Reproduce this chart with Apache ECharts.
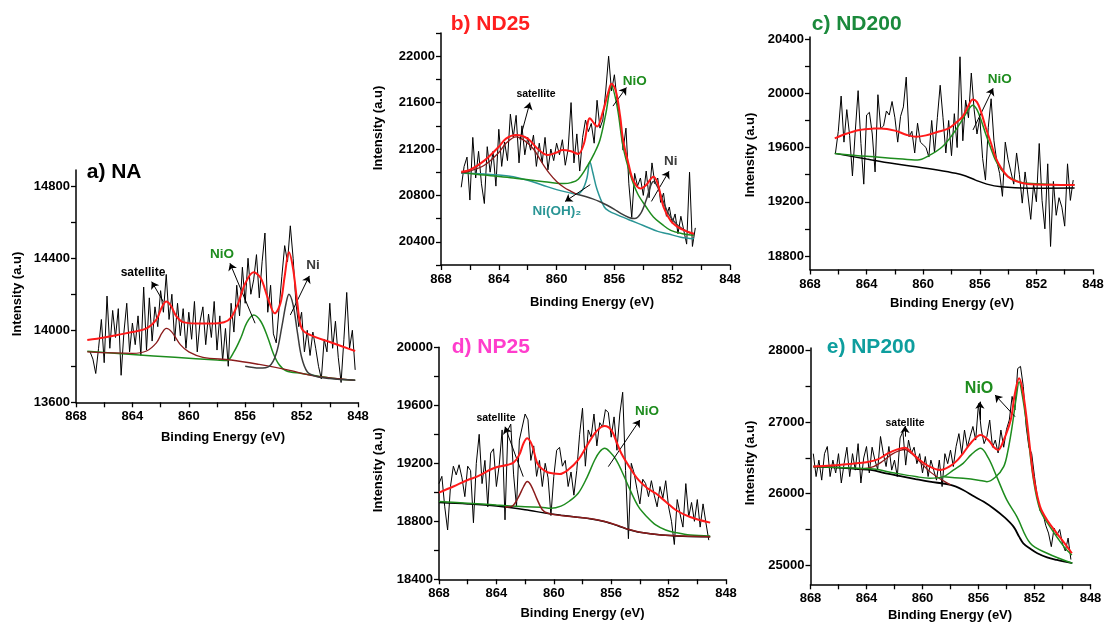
<!DOCTYPE html>
<html>
<head>
<meta charset="utf-8">
<script src="https://cdn.jsdelivr.net/npm/echarts@6/dist/echarts.min.js"></script>
<style>
  html, body { margin: 0; padding: 0; background: #ffffff; }
  #chart { width: 1106px; height: 626px; }
</style>
</head>
<body>
<div id="chart"></div>
<script>
// ---------- shared energy axis (eV) ----------
const energyStep = 0.2;
const energyTicks = [868, 866, 864, 862, 860, 858, 856, 854, 852, 850, 848];
const energyLabels = [868, 864, 860, 856, 852, 848];

// ---------- a) NA ----------
const naIntensityTicks = [13600, 13800, 14000, 14200, 14400, 14600, 14800];
const naIntensityLabels = [13600, 14000, 14400, 14800];
const naRawStart = 867.0;
const naRaw = [
  13880, 13840, 13760, 13900, 14060, 13820, 14190, 13900, 14110, 13960,
  14120, 13750, 13990, 14150, 13880, 14040, 13920, 14080, 13860, 14240,
  13890, 14180, 13940, 14130, 14020, 14220, 14100, 14310, 14060, 14200,
  13940, 14150, 13970, 14120, 13900, 14100, 13950, 14160, 13880, 14050,
  14130, 13920, 14090, 13960, 14160, 13890, 14080, 13830, 14010, 13800,
  14150, 13990, 14250, 14080, 14350, 14150, 14400, 14200, 14280, 14420,
  14180, 14380, 14540, 14100, 14250, 13980, 13930, 14120, 14300, 14470,
  14380, 14580, 14400, 14150, 14020, 14100, 13880, 14000, 13860, 13990,
  13900, 13800, 13730, 13950, 13880, 14150, 13900, 14050, 13850, 13710,
  13950, 14210, 13900, 14000, 13780
];
const naEnvelope = [
  [867.2, 13946], [866, 13960], [865, 13975], [864, 13990], [863, 14010], [862.3, 14060],
  [861.9, 14130], [861.6, 14160], [861.3, 14140], [860.9, 14080], [860.4, 14045], [859.5, 14038],
  [858.5, 14038], [857.5, 14045], [857.0, 14070], [856.5, 14150], [856.0, 14260], [855.4, 14322],
  [854.9, 14290], [854.4, 14180], [853.9, 14094], [853.5, 14150], [853.2, 14300], [852.9, 14433],
  [852.6, 14340], [852.3, 14150], [852.0, 14011], [851.4, 13974], [850.0, 13935], [849.0, 13907],
  [848.2, 13885]
];
const naSatellite = [
  [867.2, 13880], [864, 13872], [863, 13885], [862.3, 13930], [861.9, 13985], [861.6, 14010],
  [861.2, 13990], [860.6, 13920], [860, 13880], [859, 13850], [857, 13835], [855, 13810],
  [853, 13780], [851, 13745], [848.2, 13722]
];
const naNiO = [
  [867.2, 13883], [864, 13865], [861, 13850], [858, 13835], [857.3, 13832], [856.8, 13880],
  [856.3, 13960], [855.9, 14040], [855.4, 14085], [854.9, 14050], [854.4, 13960], [854, 13870],
  [853.6, 13810], [853.1, 13775], [852, 13760], [850, 13735], [848.2, 13722]
];
const naNi = [
  [856, 13800], [855, 13790], [854.3, 13800], [853.8, 13870], [853.4, 14020], [853.1, 14150],
  [852.9, 14200], [852.6, 14140], [852.3, 13990], [852, 13850], [851.6, 13770], [851, 13745],
  [850, 13732], [848.2, 13722]
];

// ---------- b) ND25 ----------
const nd25IntensityTicks = [20200, 20400, 20600, 20800, 21000, 21200, 21400, 21600, 21800, 22000, 22200];
const nd25IntensityLabels = [20400, 20800, 21200, 21600, 22000];
const nd25RawStart = 866.6;
const nd25Raw = [
  20870, 21050, 21130, 20760, 21300, 20950, 21180, 20900, 20730, 21220,
  21000, 21180, 20880, 21370, 21050, 21260, 21100, 21500, 21300, 21490,
  21080, 21400, 21150, 21300, 21190, 21320, 21050, 21250, 21080, 21300,
  21020, 21200, 21100, 21250, 21150, 21280, 21060, 21200, 21600, 21080,
  21330, 21010, 21300, 21450, 21350, 21420, 21250, 21620, 21380, 21450,
  21700, 22000, 21700, 21840, 21600, 21460, 21190, 21380, 20900, 20610,
  20990, 20880, 20950, 20800, 21010, 20780, 21080, 20900, 20950, 20740,
  20820, 20620, 20700, 20560, 20640, 20470, 20620, 20500, 20380, 21000,
  20360, 20520
];
const nd25Envelope = [
  [866.6, 21004], [866, 21020], [865, 21100], [864, 21220], [863.5, 21290], [862.8, 21321],
  [862, 21290], [861.3, 21200], [860.6, 21148], [860, 21170], [859.6, 21191], [859, 21180],
  [858.5, 21157], [858.1, 21250], [857.7, 21466], [857.4, 21420], [857.2, 21393], [856.8, 21520],
  [856.4, 21700], [856.2, 21763], [855.9, 21700], [855.6, 21480], [855.4, 21278], [855, 21060],
  [854.7, 20931], [854.2, 20859], [853.8, 20890], [853.3, 20960], [853, 20900], [852.6, 20700],
  [852.1, 20580], [851.6, 20527], [851, 20490], [850.5, 20469]
];
const nd25Satellite = [
  [866.6, 20995], [866, 21010], [865, 21060], [864, 21170], [863.5, 21250], [862.8, 21305],
  [862.2, 21270], [861.6, 21200], [861, 21080], [860.5, 20990], [860, 20920], [859.5, 20870],
  [859, 20835], [858.6, 20810]
];
const nd25NiO = [
  [866.6, 21000], [865, 20975], [863, 20950], [861, 20920], [860, 20905], [859.5, 20902],
  [859, 20910], [858.5, 20940], [857.9, 21047], [857.4, 21160], [857, 21278], [856.6, 21500],
  [856.2, 21740], [855.8, 21560], [855.4, 21220], [854.9, 20980], [854.4, 20816], [853.8, 20700],
  [853.3, 20614], [852.7, 20550], [852.1, 20498], [851.3, 20470], [850.5, 20455]
];
const nd25NiOH2 = [
  [866.6, 20990], [865, 20985], [864, 20975], [863, 20960], [862, 20930], [861, 20890],
  [860, 20850], [859, 20820], [858.6, 20810], [858.2, 20850], [857.9, 20950], [857.7, 21090],
  [857.5, 21000], [857.2, 20850], [856.7, 20700], [856.3, 20660], [856, 20643], [855, 20590],
  [854, 20541], [853, 20490], [852.3, 20469], [851.4, 20440], [850.5, 20426]
];
const nd25Ni = [
  [858.6, 20810], [858, 20790], [857.5, 20770], [857, 20745], [856.5, 20715], [856, 20680],
  [855.5, 20640], [855, 20610], [854.6, 20600], [854.2, 20640], [853.8, 20760], [853.5, 20880],
  [853.3, 20920], [853.0, 20870], [852.6, 20740], [852.2, 20630], [851.6, 20540], [851, 20490],
  [850.5, 20465]
];

// ---------- c) ND200 ----------
const nd200IntensityTicks = [18800, 19000, 19200, 19400, 19600, 19800, 20000, 20200, 20400];
const nd200IntensityLabels = [18800, 19200, 19600, 20000, 20400];
const nd200RawStart = 866.2;
const nd200Raw = [
  19560, 19720, 19980, 19640, 19880, 19690, 19390, 19720, 20020, 19630,
  19330, 19840, 19860, 19700, 19420, 19990, 19740, 19760, 19870, 19840,
  19940, 19820, 19640, 19830, 19900, 20120, 19680, 19720, 19560, 19780,
  19640, 19620, 19600, 19530, 19800, 19560, 19820, 20060, 19820, 19560,
  19800, 19540, 19850, 19600, 20270, 19650, 19950, 19820, 20150, 19880,
  19700, 19820, 19520, 19360, 19750, 19960, 19650, 19500, 19410, 19240,
  19640, 19510, 19420, 19330, 19560, 19400, 19190, 19420, 19250, 19070,
  19330, 19200, 19630, 19210, 19000, 19480, 18870, 19350, 19100, 19230,
  19160, 19020, 19480, 19210, 19360
];
const nd200Envelope = [
  [866.25, 19668], [865.5, 19700], [864.5, 19730], [863.5, 19740], [863, 19741], [862, 19725],
  [861.2, 19695], [860.5, 19680], [859.8, 19690], [859, 19715], [858.2, 19741], [857.6, 19790],
  [857.2, 19830], [856.8, 19910], [856.5, 19955], [856.2, 19935], [855.9, 19860], [855.6, 19754],
  [855.2, 19630], [854.9, 19532], [854.5, 19450], [854, 19385], [853.4, 19350], [852.6, 19331],
  [851, 19325], [849.3, 19323]
];
const nd200NiO = [
  [866.25, 19557], [864, 19535], [862, 19520], [860.4, 19508], [859.6, 19540], [858.65, 19606],
  [857.9, 19700], [857.25, 19803], [856.8, 19880], [856.5, 19913], [856.2, 19880], [855.9, 19800],
  [855.6, 19705], [855.2, 19590], [854.9, 19508], [854.5, 19440], [854, 19385], [853.3, 19350],
  [852.6, 19336], [851, 19328], [849.3, 19325]
];
const nd200Background = [
  [866.25, 19557], [864, 19515], [862, 19480], [860.5, 19459], [859, 19435], [857.7, 19410],
  [857, 19390], [856.3, 19360], [855.5, 19330], [854.5, 19310], [852.6, 19299], [849.3, 19302]
];

// ---------- d) NP25 ----------
const np25IntensityTicks = [18400, 18600, 18800, 19000, 19200, 19400, 19600, 19800, 20000];
const np25IntensityLabels = [18400, 18800, 19200, 19600, 20000];
const np25RawStart = 868.0;
const np25Raw = [
  19060, 19110, 18900, 18740, 19040, 19180, 19120, 19190, 19100, 18970,
  19180, 19150, 18790, 19200, 19400, 19060, 19220, 18900, 19270, 19300,
  19040, 19190, 19430, 18810, 19430, 19470, 19120, 18900, 19360, 19450,
  19540, 19500, 19220, 19320, 19110, 19220, 19040, 19200, 19100, 18840,
  19110, 19290, 19310, 19180, 19220, 19040, 19140, 18980, 19150, 19400,
  19580, 19180, 19430, 19380, 19540, 19320, 19480, 19450, 19570, 19550,
  19380, 19520, 19290, 19540, 19690, 19150, 18680, 19200, 19130, 19020,
  18920, 19090, 19060, 18970, 19080, 18980, 18900, 19040, 18960, 19080,
  18900, 18800, 18640, 18950, 18850, 18760, 19060, 18830, 18930, 18800,
  18950, 18760, 18920, 18790, 18670
];
const np25Envelope = [
  [868, 18998], [867, 19040], [866, 19085], [865.35, 19108], [864.2, 19166], [863.2, 19190],
  [862.8, 19205], [862.4, 19260], [862.1, 19340], [861.85, 19372], [861.5, 19320], [861.15, 19200],
  [860.8, 19160], [860.4, 19136], [859.6, 19126], [859, 19155], [858.3, 19223], [857.7, 19320],
  [857.15, 19407], [856.7, 19450], [856.45, 19458], [856, 19430], [855.6, 19340], [855.3, 19269],
  [854.7, 19170], [854.1, 19085], [853.5, 19030], [852.9, 18993], [852.2, 18935], [851.5, 18878],
  [850.5, 18830], [849.1, 18791]
];
const np25Satellite = [
  [863.4, 18898], [862.9, 18905], [862.5, 18960], [862.1, 19040], [861.85, 19074], [861.6, 19050],
  [861.2, 18960], [860.8, 18880], [860.4, 18855], [859.5, 18840], [858.5, 18830], [857.5, 18820],
  [856.5, 18800], [855.5, 18770], [854.8, 18745], [854, 18725], [852.5, 18706], [851, 18698],
  [849.1, 18694]
];
const np25NiO = [
  [868, 18936], [866, 18925], [864, 18912], [862, 18900], [860.9, 18897], [860.2, 18890],
  [859.5, 18905], [858.9, 18940], [858.3, 18993], [857.7, 19100], [857.15, 19223], [856.8, 19280],
  [856.45, 19303], [856.1, 19280], [855.7, 19230], [855.3, 19154], [854.7, 19020], [854.1, 18901],
  [853.5, 18830], [852.9, 18775], [852.2, 18740], [851.5, 18722], [850.5, 18705], [849.1, 18699]
];
const np25Background = [
  [868, 18930], [866, 18920], [864, 18905], [862, 18880], [860.5, 18855], [859.5, 18842],
  [858.5, 18830], [857.5, 18818], [856.5, 18798], [855.5, 18768], [854.8, 18744], [854, 18724],
  [852.5, 18705], [851, 18697], [849.1, 18693]
];

// ---------- e) NP200 ----------
const np200IntensityTicks = [25000, 25500, 26000, 26500, 27000, 27500, 28000];
const np200IntensityLabels = [25000, 26000, 27000, 28000];
const np200RawStart = 867.8;
const np200Raw = [
  26560, 26240, 26470, 26190, 26560, 26660, 26240, 26470, 26290, 26560,
  26150, 26420, 26650, 26240, 26560, 26330, 26700, 26150, 26500, 26660,
  26290, 26650, 26470, 26340, 26800, 26560, 26380, 26660, 26330, 26470,
  26240, 26780, 26870, 26400, 26750, 26560, 26650, 26420, 26560, 26290,
  26520, 26240, 26470, 26330, 26190, 26470, 26100, 26560, 26420, 26610,
  26380, 26660, 26840, 26560, 26890, 26650, 26800, 26940, 26750, 27260,
  26890, 26700, 26800, 27030, 26650, 26750, 26570, 26890, 26650, 26900,
  27030, 27360, 27170, 27750, 27780, 27500, 26950, 26650, 26560, 26240,
  25960, 25760, 25730, 25560, 25450, 25260, 25520, 25420, 25500, 25300,
  25200, 25380, 25080
];
const np200Envelope = [
  [867.8, 26379], [866.5, 26395], [865, 26420], [864, 26440], [863.2, 26480], [862.5, 26560],
  [861.8, 26620], [861.25, 26644], [860.7, 26560], [860.2, 26472], [859.5, 26380], [858.75, 26332],
  [858, 26390], [857.5, 26470], [857.1, 26565], [856.5, 26720], [855.85, 26821], [855.3, 26750],
  [854.9, 26650], [854.6, 26612], [854.2, 26750], [853.7, 27031], [853.4, 27400], [853.1, 27613],
  [852.85, 27450], [852.55, 27031], [852.3, 26600], [852.07, 26239], [851.6, 25820], [851.1, 25633],
  [850.4, 25447], [849.9, 25320], [849.33, 25168]
];
const np200Satellite = [
  [864.5, 26345], [863.5, 26380], [862.8, 26460], [862.2, 26550], [861.6, 26605], [861.25, 26618],
  [860.8, 26565], [860.2, 26450], [859.6, 26330], [859, 26240], [858.5, 26180], [858, 26123]
];
const np200NiOSat = [
  [867.8, 26379], [865, 26360], [863.5, 26345], [862, 26290], [860.5, 26240], [859.5, 26216],
  [858.5, 26239], [857.8, 26330], [857.1, 26425], [856.5, 26550], [855.85, 26635], [855.3, 26500],
  [854.7, 26239], [853.98, 25913], [853.26, 25680], [852.3, 25307], [851.1, 25168], [849.3, 25028]
];
const np200NiOMain = [
  [858.5, 26239], [857.1, 26216], [856, 26190], [855.4, 26169], [854.8, 26230], [854.2, 26379],
  [853.9, 26600], [853.6, 26938], [853.3, 27350], [853.1, 27566], [852.85, 27350], [852.55, 26950],
  [852.07, 26192], [851.6, 25773], [850.9, 25540], [849.9, 25261], [849.33, 25144]
];
const np200Background = [
  [867.8, 26379], [866, 26365], [864.5, 26345], [863.7, 26332], [862.5, 26280], [861.4, 26239],
  [860.5, 26205], [859.5, 26169], [858, 26123], [857.1, 26053], [856.3, 25960], [855.65, 25890],
  [854.9, 25790], [854.2, 25680], [853.5, 25540], [853.1, 25400], [852.8, 25307], [852.3, 25230],
  [851.8, 25168], [851.1, 25110], [850.4, 25075], [849.3, 25030]
];

// ---------- styling ----------
const FONT = '"Liberation Sans", Arial, sans-serif';
const RED = '#ff1a1a', GREEN = '#1e8c1e', BROWN = '#8b1c1c', GREY = '#3c3c3c',
      TEAL = '#2a9595', BLACK = '#000000';

function rawPoints(start, values) {
  return values.map((v, i) => [Number((start - i * energyStep).toFixed(2)), v]);
}

const layouts = [
  { grid: { left: 76, top: 170, width: 282, height: 232.3 }, min: 13600, max: 14890,
    ticks: naIntensityTicks, labels: naIntensityLabels },
  { grid: { left: 441, top: 33, width: 289, height: 232 }, min: 20200, max: 22200,
    ticks: nd25IntensityTicks, labels: nd25IntensityLabels },
  { grid: { left: 810, top: 37, width: 283, height: 232.5 }, min: 18700, max: 20416,
    ticks: nd200IntensityTicks, labels: nd200IntensityLabels },
  { grid: { left: 439, top: 347.3, width: 287, height: 232 }, min: 18400, max: 20000,
    ticks: np25IntensityTicks, labels: np25IntensityLabels },
  { grid: { left: 810.5, top: 348, width: 280, height: 236.3 }, min: 24734, max: 28037,
    ticks: np200IntensityTicks, labels: np200IntensityLabels }
];

const axisLine = { show: true, onZero: false, lineStyle: { color: BLACK, width: 1.5 } };
const tickLabel = { fontFamily: FONT, fontWeight: 'bold', fontSize: 13, color: BLACK };

const grids = layouts.map(l => Object.assign({ containLabel: false, outerBoundsMode: 'none' }, l.grid));
const xAxes = layouts.map((l, i) => ({
  type: 'value', gridIndex: i, min: 848, max: 868, inverse: true,
  axisLine, splitLine: { show: false },
  axisTick: { show: true, length: 5, customValues: energyTicks, lineStyle: { color: BLACK, width: 1.3 } },
  axisLabel: Object.assign({ margin: 8, customValues: energyLabels, formatter: v => String(v) }, tickLabel)
}));
const yAxes = layouts.map((l, i) => ({
  type: 'value', gridIndex: i, min: l.min, max: l.max,
  axisLine, splitLine: { show: false },
  axisTick: { show: true, length: 5, customValues: l.ticks, lineStyle: { color: BLACK, width: 1.3 } },
  axisLabel: Object.assign({ margin: 6, customValues: l.labels, formatter: v => String(v) }, tickLabel)
}));

function raw(idx, start, values) {
  return {
    type: 'line', xAxisIndex: idx, yAxisIndex: idx, data: rawPoints(start, values),
    showSymbol: false, silent: true, z: 2,
    lineStyle: { color: BLACK, width: 1 }
  };
}
function curve(idx, data, color, width, z, extra) {
  return Object.assign({
    type: 'line', xAxisIndex: idx, yAxisIndex: idx, data,
    showSymbol: false, silent: true, smooth: 0.35, z: z || 3,
    lineStyle: { color, width }
  }, extra || {});
}
function note(coord, text, color, size) {
  return {
    coord, symbol: 'circle', symbolSize: 0,
    label: { show: true, position: 'inside', formatter: text, color,
             fontFamily: FONT, fontWeight: 'bold', fontSize: size }
  };
}
function arrow(tail, head) {
  return [{ coord: tail }, { coord: head }];
}
function annotations(notes, arrows) {
  return {
    markPoint: { silent: true, data: notes },
    markLine: {
      silent: true, symbol: ['none', 'arrow'], symbolSize: 7,
      lineStyle: { color: BLACK, width: 1, type: 'solid' },
      label: { show: false }, emphasis: { disabled: true },
      data: arrows
    }
  };
}

const series = [
  // a) NA
  raw(0, naRawStart, naRaw),
  curve(0, naNiO, GREEN, 1.5),
  curve(0, naSatellite, BROWN, 1.3),
  curve(0, naNi, GREY, 1.5),
  curve(0, naEnvelope, RED, 2, 5, annotations([
    note([863.25, 14318], 'satellite', BLACK, 12),
    note([857.65, 14424], 'NiO', GREEN, 13.5),
    note([851.2, 14363], 'Ni', GREY, 13.5)
  ], [
    arrow([861.81, 14159], [862.63, 14270]),
    arrow([855.3, 14039], [857.08, 14372]),
    arrow([852.8, 14085], [851.45, 14302])
  ])),

  // b) ND25
  raw(1, nd25RawStart, nd25Raw),
  curve(1, nd25NiOH2, TEAL, 1.5),
  curve(1, nd25NiO, GREEN, 1.5),
  curve(1, nd25Satellite, BROWN, 1.3),
  curve(1, nd25Ni, GREY, 1.5),
  curve(1, nd25Envelope, RED, 2, 5, annotations([
    note([861.43, 21672], 'satellite', BLACK, 10.5),
    note([854.6, 21784], 'NiO', GREEN, 13.5),
    note([852.1, 21092], 'Ni', GREY, 13.5),
    note([859.98, 20659], 'Ni(OH)₂', TEAL, 13.5)
  ], [
    arrow([862.54, 21282], [861.85, 21600]),
    arrow([856.1, 21570], [855.17, 21730]),
    arrow([853.44, 20748], [852.22, 21008]),
    arrow([857.67, 20893], [859.41, 20748])
  ])),

  // c) ND200
  raw(2, nd200RawStart, nd200Raw),
  curve(2, nd200Background, BLACK, 1.5),
  curve(2, nd200NiO, GREEN, 1.5),
  curve(2, nd200Envelope, RED, 2, 5, annotations([
    note([854.59, 20106], 'NiO', GREEN, 13.5)
  ], [
    arrow([856.48, 19730], [855.06, 20037])
  ])),

  // d) NP25
  raw(3, np25RawStart, np25Raw),
  curve(3, np25Background, BLACK, 1.5),
  curve(3, np25NiO, GREEN, 1.5),
  curve(3, np25Satellite, BROWN, 1.5),
  curve(3, np25Envelope, RED, 2, 5, annotations([
    note([864.03, 19512], 'satellite', BLACK, 10.5),
    note([853.5, 19561], 'NiO', GREEN, 13.5)
  ], [
    arrow([862.13, 19108], [863.4, 19452]),
    arrow([856.2, 19177], [854.0, 19499])
  ])),

  // e) NP200
  raw(4, np200RawStart, np200Raw),
  curve(4, np200Background, BLACK, 1.8),
  curve(4, np200Satellite, BROWN, 1.3),
  curve(4, np200NiOSat, GREEN, 1.5),
  curve(4, np200NiOMain, GREEN, 1.5),
  curve(4, np200Envelope, RED, 2, 5, annotations([
    note([861.25, 26989], 'satellite', BLACK, 10.5),
    note([855.96, 27465], 'NiO', GREEN, 16)
  ], [
    arrow([861.25, 26798], [861.25, 26947]),
    arrow([855.9, 27031], [855.9, 27287]),
    arrow([853.39, 27077], [854.82, 27381])
  ]))
];

// ---------- panel titles and axis names ----------
function title(x, y, text, color) {
  return { type: 'text', x, y, silent: true,
    style: { text, fill: color, font: 'bold 21px ' + FONT, textAlign: 'left', textVerticalAlign: 'middle' } };
}
function xName(x, y) {
  return { type: 'text', x, y, silent: true,
    style: { text: 'Binding Energy (eV)', fill: BLACK, font: 'bold 13px ' + FONT,
             textAlign: 'center', textVerticalAlign: 'middle' } };
}
function yName(x, y) {
  return { type: 'text', x, y, rotation: Math.PI / 2, silent: true,
    style: { text: 'Intensity (a.u)', fill: BLACK, font: 'bold 13px ' + FONT,
             textAlign: 'center', textVerticalAlign: 'middle' } };
}

const graphic = [
  title(86.7, 172.5, 'a) NA', '#000000'),
  title(450.7, 24, 'b) ND25', '#ff1f1f'),
  title(811.7, 24, 'c) ND200', '#1b8a3c'),
  title(451.7, 347.5, 'd) NP25', '#ff3dcc'),
  title(826.7, 347, 'e) NP200', '#0e9e9e'),
  xName(223, 437), xName(592, 302), xName(952, 303), xName(582.5, 613), xName(950, 615),
  yName(17, 294), yName(378, 128), yName(750, 155), yName(378, 470), yName(750, 463)
];

const chart = echarts.init(document.getElementById('chart'), null, { renderer: 'canvas' });
chart.setOption({
  animation: false,
  backgroundColor: '#ffffff',
  grid: grids,
  xAxis: xAxes,
  yAxis: yAxes,
  series,
  graphic
});
</script>
</body>
</html>
